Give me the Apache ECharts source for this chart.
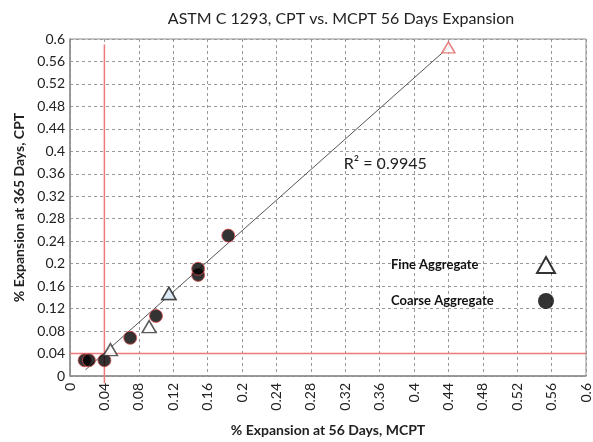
<!DOCTYPE html>
<html>
<head>
<meta charset="utf-8">
<script src="https://cdn.jsdelivr.net/npm/echarts@6/dist/echarts.min.js"></script>
<style>
  html, body { margin: 0; padding: 0; background: #fff; }
  #chart { width: 593px; height: 442px; }
</style>
</head>
<body>
<div id="chart"></div>
<script>
// Axis ticks (both axes share the same 0.04 step)
const tickValues = [0, 0.04, 0.08, 0.12, 0.16, 0.2, 0.24, 0.28, 0.32, 0.36, 0.4, 0.44, 0.48, 0.52, 0.56, 0.6];

// Fine aggregate: [MCPT 56 d, CPT 365 d]
const fineAggregate = [
  [0.047, 0.047],
  [0.092, 0.088],
  [0.115, 0.147]
];
const fineHighlighted = [[0.115, 0.147]];
const fineOutlier = [[0.44, 0.585]];

// Coarse aggregate: [MCPT 56 d, CPT 365 d]
const coarseAggregate = [
  [0.017, 0.028],
  [0.022, 0.028],
  [0.04, 0.028],
  [0.07, 0.068],
  [0.1, 0.107],
  [0.149, 0.18],
  [0.149, 0.191],
  [0.184, 0.25]
];

// Linear trend line end points and its fit
const trendLine = [[0.018, 0.011], [0.44, 0.585]];
const rSquared = '0.9945';
const rSquaredAt = [0.3666, 0.3785];

// 0.04 % limit lines
const limitVertical = [[0.04, -0.013], [0.04, 0.59]];
const limitHorizontal = [[0, 0.04], [0.6, 0.04]];

const FONT = 'Lato, "Open Sans", sans-serif';
const chart = echarts.init(document.getElementById('chart'));

const gridLine = { show: true, lineStyle: { color: '#999', type: [3, 3], width: 1 } };
const axisLine = { show: true, lineStyle: { color: '#8c8c8c', width: 1.5 } };
const tickFmt = v => String(tickValues[Math.round(v / 0.04)]);

chart.setOption({
  animation: false,
  backgroundColor: '#fff',
  title: {
    text: 'ASTM C 1293, CPT vs. MCPT 56 Days Expansion',
    left: 336, top: 6, textAlign: 'center',
    textStyle: { fontFamily: FONT, fontSize: 16, fontWeight: 'normal', color: '#222' }
  },
  grid: { left: 70, right: 3, top: 39, bottom: 59, show: true, borderColor: '#8c8c8c', borderWidth: 1 },
  legend: {
    orient: 'vertical', left: 386, top: 251, align: 'right', itemGap: 19,
    itemWidth: 18, itemHeight: 16, itemTextGap: 2,
    selectedMode: false,
    data: [
      { name: 'Fine Aggregate', icon: 'triangle', itemStyle: { color: '#fff', borderColor: '#000', borderWidth: 2 } },
      { name: 'Coarse Aggregate', icon: 'circle', itemStyle: { color: '#000', borderColor: '#000', borderWidth: 0 } }
    ],
    formatter: '{t|{name}}',
    textStyle: {
      rich: {
        t: { fontFamily: FONT, fontSize: 13, fontWeight: 'bold', color: '#111', width: 141, align: 'left' }
      }
    }
  },
  xAxis: {
    type: 'value', min: 0, max: 0.6, interval: 0.04,
    name: '% Expansion at 56 Days, MCPT', nameLocation: 'middle', nameGap: 47,
    nameTextStyle: { fontFamily: FONT, fontSize: 14, fontWeight: 'bold', color: '#222' },
    axisLine: axisLine, axisTick: { show: false }, splitLine: gridLine,
    axisLabel: { rotate: 90, margin: 7, fontFamily: FONT, fontSize: 14, color: '#222', formatter: tickFmt }
  },
  yAxis: {
    type: 'value', min: 0, max: 0.6, interval: 0.04,
    name: '% Expansion at 365 Days, CPT', nameLocation: 'middle', nameGap: 44,
    nameTextStyle: { fontFamily: FONT, fontSize: 14, fontWeight: 'bold', color: '#222' },
    axisLine: axisLine, axisTick: { show: false }, splitLine: gridLine,
    axisLabel: { margin: 5, fontFamily: FONT, fontSize: 14, color: '#222', formatter: tickFmt }
  },
  series: [
    {
      type: 'line', data: limitVertical, symbol: 'none', clip: false, silent: true,
      lineStyle: { color: '#f07878', width: 1.5 }, z: 1
    },
    {
      type: 'line', data: limitHorizontal, symbol: 'none', silent: true,
      lineStyle: { color: '#f07878', width: 1.5 }, z: 1
    },
    {
      type: 'line', data: trendLine, symbol: 'none', clip: false, silent: true,
      lineStyle: { color: '#555', width: 1 }, z: 2,
      markPoint: {
        symbol: 'rect', symbolSize: 1, itemStyle: { color: 'transparent' },
        data: [{ coord: rSquaredAt }],
        label: {
          show: true, position: 'inside',
          formatter: 'R² = ' + rSquared,
          fontFamily: FONT, fontSize: 16, color: '#222'
        }
      }
    },
    {
      name: 'Coarse Aggregate', type: 'scatter', data: coarseAggregate,
      symbol: 'circle', symbolSize: 13, z: 3,
      itemStyle: { color: '#000', borderColor: '#d85050', borderWidth: 1 }
    },
    {
      name: 'Fine Aggregate', type: 'scatter', data: fineAggregate,
      symbol: 'triangle', symbolSize: [14, 12], z: 4,
      itemStyle: { color: '#fff', borderColor: '#333', borderWidth: 1.5 }
    },
    {
      name: 'Fine Aggregate', type: 'scatter', data: fineHighlighted,
      symbol: 'triangle', symbolSize: [14, 12], z: 5,
      itemStyle: { color: '#d4e6f6', borderColor: '#333', borderWidth: 1.5 }
    },
    {
      name: 'Fine Aggregate', type: 'scatter', data: fineOutlier,
      symbol: 'triangle', symbolSize: [13, 11], z: 5,
      itemStyle: { color: '#fff', borderColor: '#e06060', borderWidth: 1.5 }
    }
  ]
});
</script>
</body>
</html>
